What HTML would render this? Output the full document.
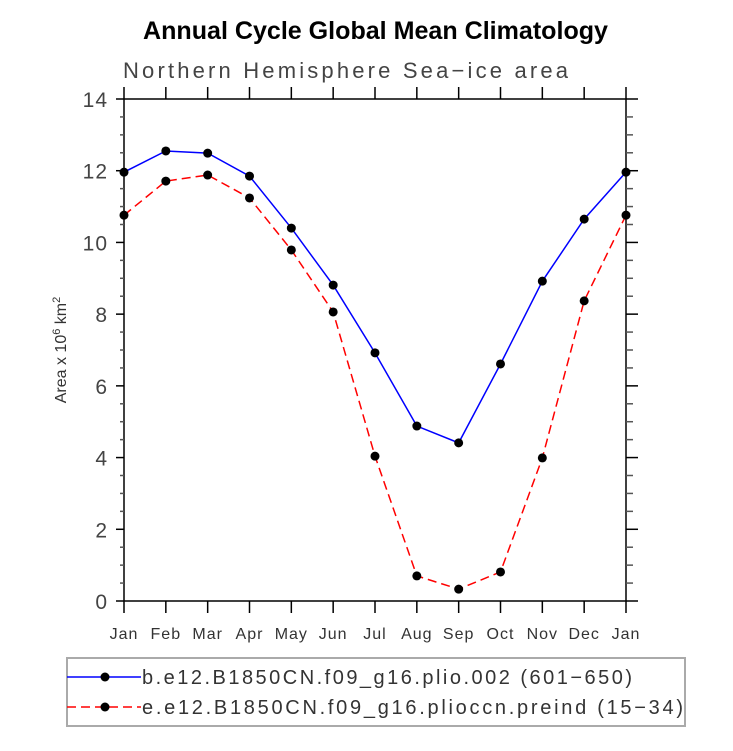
<!DOCTYPE html>
<html><head><meta charset="utf-8"><style>
body{margin:0;background:#fff;width:733px;height:746px;overflow:hidden}
svg text{font-family:"Liberation Sans",sans-serif}
</style></head><body>
<svg id="c" width="733" height="746" xmlns="http://www.w3.org/2000/svg">
<text x="143" y="39" textLength="465" lengthAdjust="spacingAndGlyphs" font-size="25" font-weight="bold" fill="#000">Annual Cycle Global Mean Climatology</text>
<text x="123" y="78" textLength="445" lengthAdjust="spacing" font-size="22" fill="#444">Northern Hemisphere Sea−ice area</text>
<text transform="translate(66,350) rotate(-90)" text-anchor="middle" font-size="16" fill="#333">Area x 10<tspan dy="-6" font-size="11">6</tspan><tspan dy="6"> km</tspan><tspan dy="-6" font-size="11">2</tspan></text>
<g id="axes"></g>
<g id="series"></g>
<rect x="67" y="658" width="618" height="68" fill="none" stroke="#aaa" stroke-width="2"/>
<g>
<line x1="67" y1="677" x2="141" y2="677" stroke="#0000ff" stroke-width="1.5"/>
<circle cx="105" cy="677" r="4.5" fill="#000"/>
<text x="142" y="684" textLength="490" lengthAdjust="spacing" font-size="20" fill="#333">b.e12.B1850CN.f09_g16.plio.002 (601−650)</text>
</g>
<g>
<line x1="67" y1="707" x2="141" y2="707" stroke="#ff0000" stroke-width="1.5" stroke-dasharray="9,5"/>
<circle cx="105" cy="707" r="4.5" fill="#000"/>
<text x="142" y="714" textLength="541" lengthAdjust="spacing" font-size="20" fill="#333">e.e12.B1850CN.f09_g16.plioccn.preind (15−34)</text>
</g>
</svg>
<script>
const months=["Jan","Feb","Mar","Apr","May","Jun","Jul","Aug","Sep","Oct","Nov","Dec","Jan"];
const yTicks=[0,2,4,6,8,10,12,14];
const seriesBlue=[11.96,12.55,12.49,11.85,10.4,8.81,6.92,4.88,4.41,6.61,8.92,10.65,11.96];
const seriesRed=[10.76,11.71,11.88,11.24,9.79,8.06,4.04,0.70,0.33,0.81,3.99,8.37,10.76];
const NS="http://www.w3.org/2000/svg";
const L=124,R=626,T=99,B=601;
const xs=i=>L+(R-L)*i/12, ys=v=>B-(B-T)*v/14;
function mk(t,a,p){const e=document.createElementNS(NS,t);for(const k in a)e.setAttribute(k,a[k]);p.appendChild(e);return e;}
const ax=document.getElementById('axes');
const frame=mk('rect',{x:L,y:T,width:R-L,height:B-T,fill:'none',stroke:'#000','stroke-width':1.5},ax);


months.forEach((m,i)=>{const x=xs(i);
 mk('line',{x1:x,y1:B,x2:x,y2:B+12,stroke:'#000','stroke-width':1.5},ax);
 mk('line',{x1:x,y1:T,x2:x,y2:T-12,stroke:'#000','stroke-width':1.5},ax);
 const t=mk('text',{x:x,y:B+38,'text-anchor':'middle','font-size':16,'letter-spacing':1,fill:'#333'},ax);t.textContent=m;
 
 
});
for(let v=0;v<=14.001;v+=0.5){const y=ys(v);const maj=Math.abs(v-Math.round(v/2)*2)<1e-6;const len=maj?8:4;
 mk('line',{x1:L-len,y1:y,x2:L,y2:y,stroke:maj?'#000':'#555','stroke-width':1.5},ax);
 mk('line',{x1:R,y1:y,x2:R+len+(maj?4:3),y2:y,stroke:maj?'#000':'#555','stroke-width':1.5},ax);}
yTicks.forEach(v=>{const t=mk('text',{x:L-16,y:ys(v)+8,'text-anchor':'end','font-size':21,'letter-spacing':1,fill:'#444'},ax);t.textContent=v;
 
 });
const sg=document.getElementById('series');
function draw(vals,color,dash,name){
 const p=mk('polyline',{points:vals.map((v,i)=>xs(i)+','+ys(v)).join(' '),fill:'none',stroke:color,'stroke-width':1.5},sg);
 if(dash)p.setAttribute('stroke-dasharray',dash);
 
 
 vals.forEach((v,i)=>{const c=mk('circle',{cx:xs(i),cy:ys(v),r:4.5,fill:'#000'},sg);
  
  });
}
draw(seriesBlue,'#0000ff',null,'plio-series');
draw(seriesRed,'#ff0000','9,5','preind-series');
</script>
</body></html>
